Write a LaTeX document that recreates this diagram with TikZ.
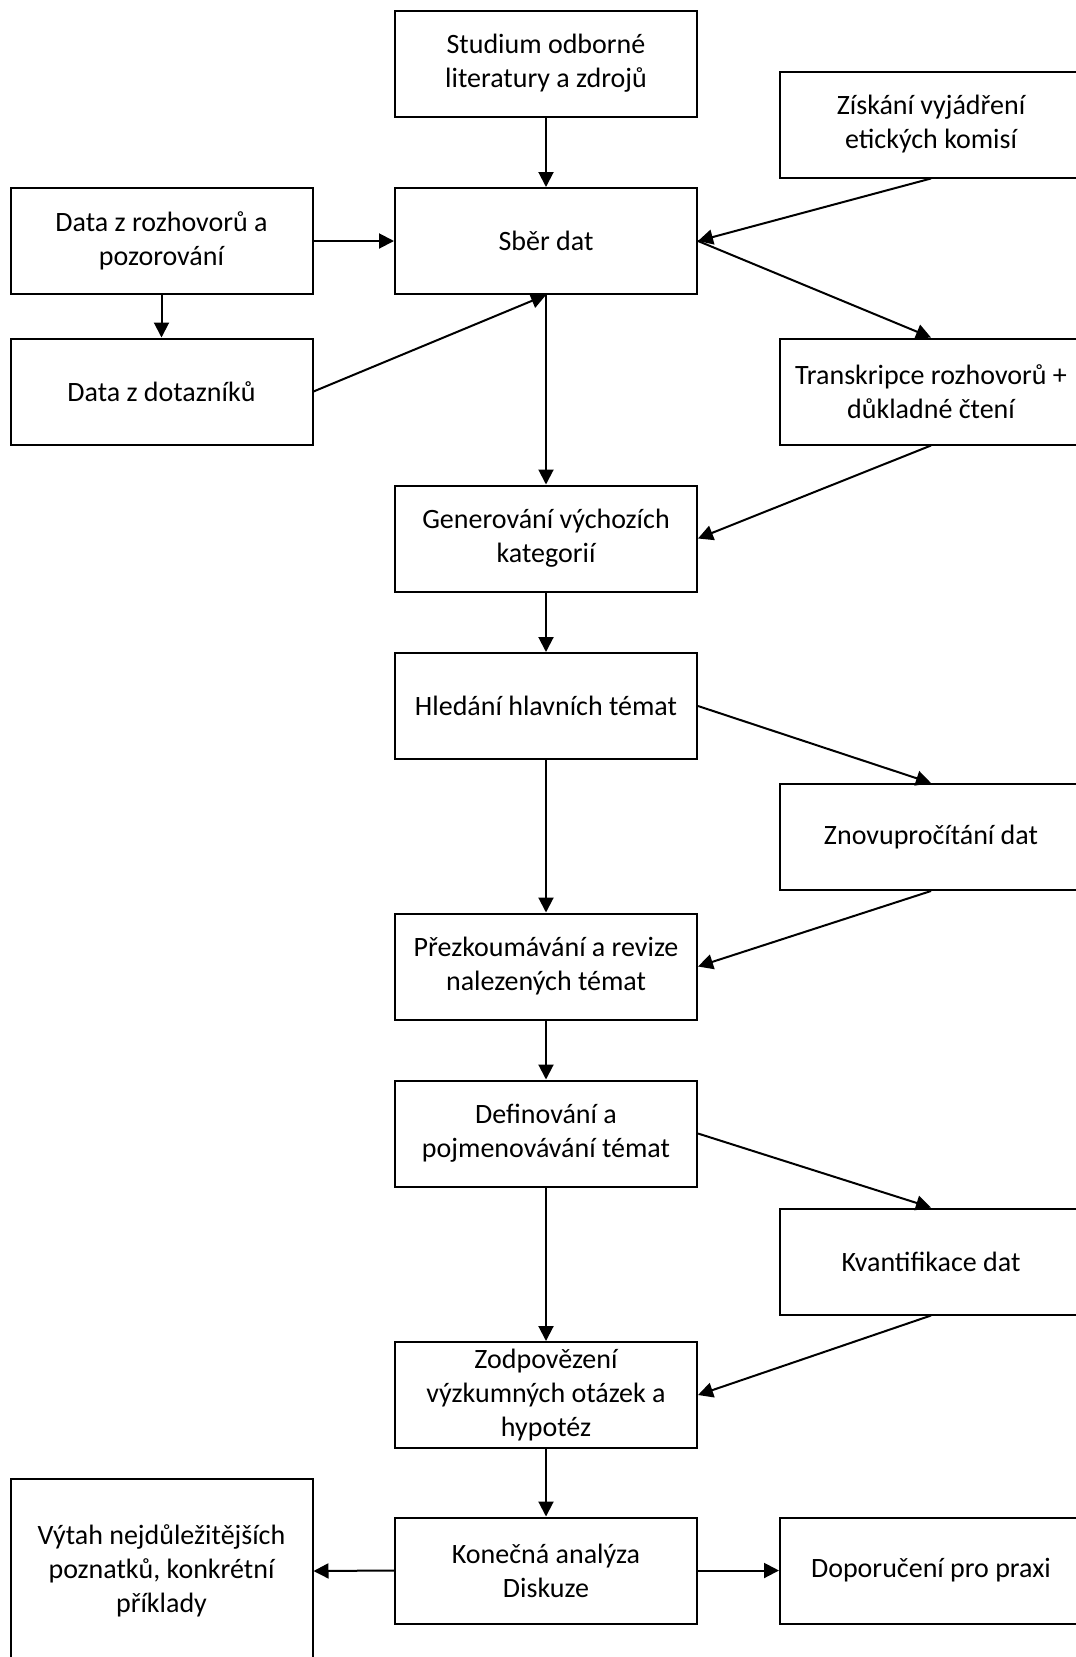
\documentclass[tikz,border=0pt]{standalone}
\usepackage{fontspec}
\setmainfont{Carlito}
\usetikzlibrary{arrows.meta}

\tikzset{
  box/.style={draw=black, line width=2pt, fill=white, minimum width=302pt, minimum height=106pt,
              align=center, inner sep=4pt,
              font=\fontsize{28pt}{34pt}\selectfont},
  link/.style={line width=2pt, -{Triangle[length=15pt,width=15pt]}},
}

\begin{document}
\begin{tikzpicture}[x=1pt,y=-1pt]
  \useasboundingbox (0,0) rectangle (1076,1657);
  \clip (0,0) rectangle (1076,1657);

  % main column
  \node[box] (studium) at (546,63.5)  {Studium odborné\\literatury a zdrojů};
  \node[box] (sber)    at (546,241)   {Sběr dat};
  \node[box] (gen)     at (546,538.5) {Generování výchozích\\kategorií};
  \node[box] (hled)    at (546,706)   {Hledání hlavních témat};
  \node[box] (prez)    at (546,966.5) {Přezkoumávání a revize\\nalezených témat};
  \node[box] (def)     at (546,1133.5){Definování a\\pojmenovávání témat};
  \node[box] (odp)     at (546,1395)  {Zodpovězení\\výzkumných otázek a\\hypotéz};
  \node[box] (kon)     at (546,1570.5){Konečná analýza\\Diskuze};

  % left column
  \node[box] (rozh)    at (161.5,241)   {Data z rozhovorů a\\pozorování};
  \node[box] (dotaz)   at (161.5,391.5) {Data z dotazníků};
  \node[box, minimum height=184pt] (vytah) at (161.5,1571) {Výtah nejdůležitějších\\poznatků, konkrétní\\příklady};

  % right column
  \node[box] (ziskani) at (931,124.5)  {Získání vyjádření\\etických komisí};
  \node[box] (transk)  at (931,391.5)  {Transkripce rozhovorů +\\důkladné čtení};
  \node[box] (znovu)   at (931,837)    {Znovupročítání dat};
  \node[box] (kvant)   at (931,1261.5) {Kvantifikace dat};
  \node[box] (dopor)   at (931,1570.5) {Doporučení pro praxi};

  % connectors
  \draw[link] (studium.south) -- (sber.north);
  \draw[link] (rozh.east) -- (sber.west);
  \draw[link] (rozh.south) -- (dotaz.north);
  \draw[link] (dotaz.east) -- (sber.south);
  \draw[link] (ziskani.south) -- (sber.east);
  \draw[link] (sber.east) -- (transk.north);
  \draw[link] (sber.south) -- (gen.north);
  \draw[link] (transk.south) -- (gen.east);
  \draw[link] (gen.south) -- (hled.north);
  \draw[link] (hled.east) -- (znovu.north);
  \draw[link] (hled.south) -- (prez.north);
  \draw[link] (znovu.south) -- (prez.east);
  \draw[link] (prez.south) -- (def.north);
  \draw[link] (def.east) -- (kvant.north);
  \draw[link] (def.south) -- (odp.north);
  \draw[link] (kvant.south) -- (odp.east);
  \draw[link] (odp.south) -- (kon.north);
  \draw[link] (kon.west) -- (vytah.east);
  \draw[link] (kon.east) -- (dopor.west);
\end{tikzpicture}
\end{document}
